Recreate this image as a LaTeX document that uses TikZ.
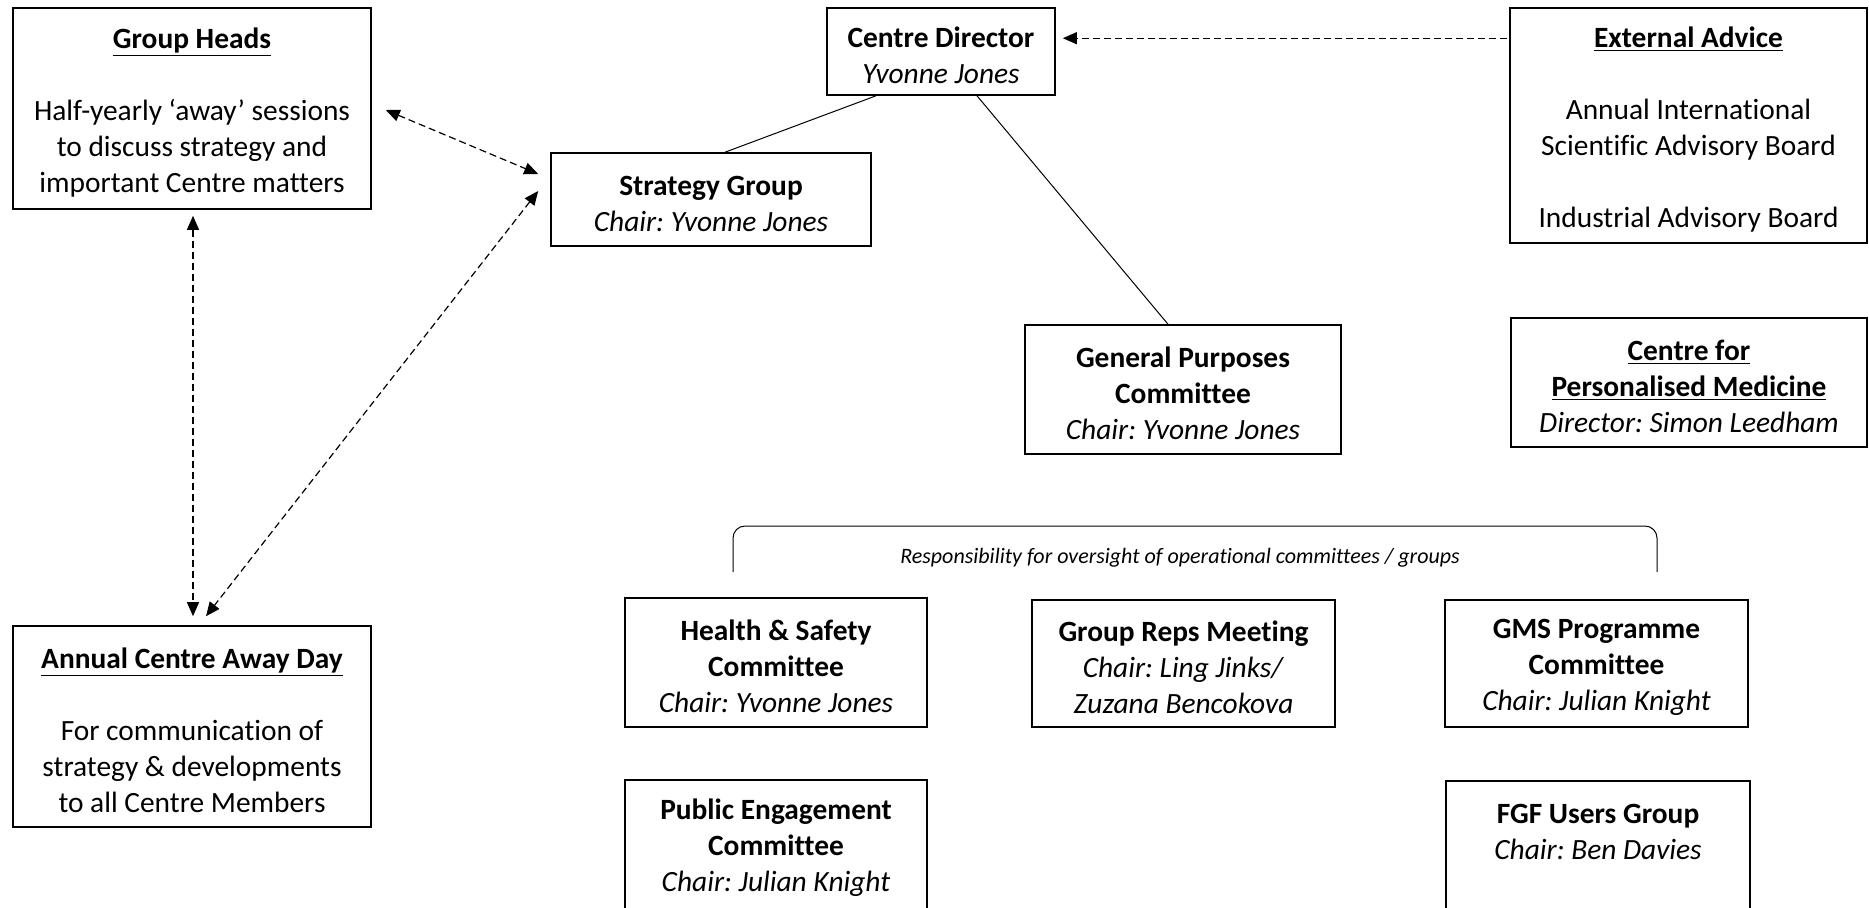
\documentclass[tikz,border=0pt]{standalone}
\usepackage{fontspec}
\setmainfont{Carlito}[Ligatures=NoCommon]
\usetikzlibrary{arrows.meta,calc}
\newcommand{\fs}{\rule{0pt}{14pt}}
\begin{document}
\frenchspacing
\begin{tikzpicture}[x=0.5pt,y=-0.5pt,
  box/.style={draw, line width=0.8pt, align=center, inner sep=0pt, font=\fontsize{14.7}{18}\selectfont},
  dasharr/.style={dash pattern=on 3.5pt off 2pt, line width=0.6pt},
  tipend/.style={-{Triangle[length=7pt,width=6pt]}},
  tipboth/.style={{Triangle[length=7pt,width=6pt]}-{Triangle[length=7pt,width=6pt]}},
  conn/.style={line width=0.5pt}]
\useasboundingbox (0,0) rectangle (1869,907);

\node[box, minimum width=179pt, minimum height=100.5pt] (gh) at (192,108.5)
  {\fs\underline{\textbf{Group Heads}}\\[18pt]Half-yearly ‘away’ sessions\\to discuss strategy and\\important Centre matters};
\node[box, minimum width=114pt, minimum height=43.5pt] (cd) at (941,51.5)
  {\fs\textbf{Centre Director}\\\textit{Yvonne Jones}};
\node[box, minimum width=178.5pt, minimum height=117.5pt] (ea) at (1688.5,125.5)
  {\fs\underline{\textbf{External Advice}}\\[18pt]Annual International\\Scientific Advisory Board\\[18pt]Industrial Advisory Board};
\node[box, minimum width=160pt, minimum height=46.5pt] (sg) at (711,199.5)
  {\fs\textbf{Strategy Group}\\\textit{Chair: Yvonne Jones}};
\node[box, minimum width=158pt, minimum height=64.5pt] (gpc) at (1183,389.5)
  {\fs\textbf{General Purposes}\\\textbf{Committee}\\\textit{Chair: Yvonne Jones}};
\node[box, minimum width=178pt, minimum height=64.5pt] (cpm) at (1689,382.5)
  {\fs\underline{\textbf{Centre for}}\\\underline{\textbf{Personalised Medicine}}\\\textit{Director: Simon Leedham}};
\node[box, minimum width=151pt, minimum height=64.5pt] (hs) at (776,662.5)
  {\fs\textbf{Health \& Safety}\\\textbf{Committee}\\\textit{Chair: Yvonne Jones}};
\node[box, minimum width=151.5pt, minimum height=63.5pt] (grm) at (1183.5,663.5)
  {\fs\textbf{Group Reps Meeting}\\\textit{Chair: Ling Jinks/}\\\textit{Zuzana Bencokova}};
\node[box, minimum width=151.5pt, minimum height=63.5pt] (gms) at (1596.5,663.5)
  {\fs\textbf{GMS Programme}\\\textbf{Committee}\\\textit{Chair: Julian Knight}};
\node[box, minimum width=151pt, minimum height=64.5pt] (pe) at (776,844.5)
  {\fs\textbf{Public Engagement}\\\textbf{Committee}\\\textit{Chair: Julian Knight}};
\node[box, minimum width=152pt, minimum height=64.5pt] (fgf) at (1598,845.5)
  {\fs\textbf{FGF Users Group}\\\textit{Chair: Ben Davies}\\\mbox{}};
\node[box, minimum width=179pt, minimum height=100.5pt] (ad) at (192,726.5)
  {\fs\underline{\textbf{Annual Centre Away Day}}\\[18pt]For communication of\\strategy \& developments\\to all Centre Members};

% solid connectors
\draw[conn] ($(cd.south)+(-65,0)$) -- ($(sg.north)+(14,0)$);
\draw[conn] ($(cd.south)+(36,0)$) -- ($(gpc.north)+(-15,0)$);

% bracket
\coordinate (bl) at (733,572);
\coordinate (tl) at (733,526);
\coordinate (tr) at (1657,526);
\coordinate (br) at (1657,572);
\draw[conn, rounded corners=6pt] (bl) -- (tl) -- (tr) -- (br);
\draw[conn] ($(gpc.south)+(-4,0)$) -- ($(gpc.south)+(-4,0)$ |- tl);
\node[font=\fontsize{11}{13}\selectfont\itshape] (resp) at (1180,558)
  {Responsibility for oversight of operational committees / groups};

% dashed arrows
\draw[dasharr, tipend] ($(ea.north west)+(-2,31)$) -- ($(cd.north east)+(7,31)$);
\draw[dasharr, tipboth] ($(gh.east)+(14,1.5)$) -- ($(sg.west)+(-12,-25.5)$);
\draw[dasharr, tipboth] ($(gh.south)+(1,6)$) -- ($(ad.north)+(1,-9)$);
\draw[dasharr, tipboth] ($(sg.west)+(-12,-8.5)$) -- ($(ad.north)+(14,-9)$);
\end{tikzpicture}
\end{document}
